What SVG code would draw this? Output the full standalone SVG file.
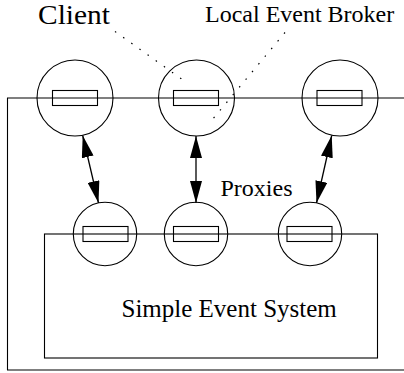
<svg xmlns="http://www.w3.org/2000/svg" width="404" height="373" viewBox="0 0 404 373">
<style>
.ln{fill:none;stroke:#000;stroke-width:1.1}
.cl{fill:none;stroke:#000;stroke-width:1.1}
.bx{fill:none;stroke:#000;stroke-width:1.1}
.dot{fill:none;stroke:#000;stroke-width:1.2;stroke-dasharray:1.5 8.5}
.arr{fill:none;stroke:#000;stroke-width:1.3;marker-start:url(#ah);marker-end:url(#ah)}
text{font-family:"Liberation Serif","Times New Roman",serif;fill:#000}
</style>
<defs>
<marker id="ah" viewBox="0 0 22 12" refX="22" refY="6" markerWidth="22" markerHeight="12" markerUnits="userSpaceOnUse" orient="auto-start-reverse">
<path d="M0,0 L22,6 L0,12 Z" fill="#000"/>
</marker>
</defs>
<g id="frame">
<path class="ln" d="M404,98 H7.5 V370 H404"/>
</g>
<g id="simple-event-system">
<rect class="ln" x="44.5" y="234" width="333" height="124"/>
<text x="121.5" y="317" font-size="25">Simple Event System</text>
</g>
<g id="client1">
<circle class="cl" cx="75" cy="98" r="38"/>
<rect class="bx" x="52.5" y="90.5" width="45" height="15"/>
</g>
<g id="client2">
<circle class="cl" cx="196.5" cy="98" r="38"/>
<rect class="bx" x="173.5" y="90.5" width="45" height="15"/>
</g>
<g id="client3">
<circle class="cl" cx="340" cy="98" r="38"/>
<rect class="bx" x="317" y="90.5" width="45" height="15"/>
</g>
<g id="proxy1">
<circle class="cl" cx="105" cy="234" r="31.7"/>
<rect class="bx" x="83" y="226.5" width="45" height="15"/>
</g>
<g id="proxy2">
<circle class="cl" cx="196" cy="234" r="31.7"/>
<rect class="bx" x="173.5" y="226.5" width="45" height="15"/>
</g>
<g id="proxy3">
<circle class="cl" cx="310" cy="234" r="31.7"/>
<rect class="bx" x="287" y="226.5" width="45" height="15"/>
</g>
<g id="connectors">
<line class="arr" x1="82.7" y1="135.5" x2="98.5" y2="203"/>
<line class="arr" x1="196" y1="136" x2="196" y2="203"/>
<line class="arr" x1="331.7" y1="135.5" x2="316.5" y2="203"/>
<line class="dot" x1="115" y1="31.5" x2="183" y2="80"/>
<line class="dot" x1="285" y1="32.5" x2="212" y2="120"/>
</g>
<g id="labels">
<text x="38" y="23.5" font-size="26.5" textLength="72" lengthAdjust="spacingAndGlyphs">Client</text>
<text x="205" y="22" font-size="24">Local Event Broker</text>
<text x="220.5" y="196" font-size="24">Proxies</text>
</g>
</svg>
